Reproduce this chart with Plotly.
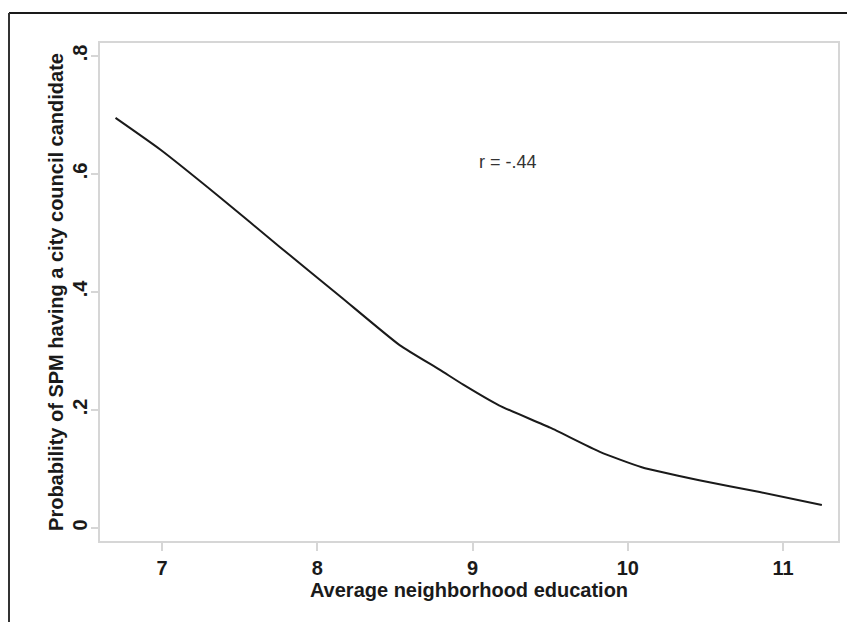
import plotly.graph_objects as go

# Data
education = [6.70, 6.99, 7.37, 7.76, 8.15, 8.53, 8.79, 8.94, 9.17, 9.50, 9.82, 10.09, 10.46, 10.85, 11.25]
probability = [0.695, 0.641, 0.561, 0.476, 0.392, 0.310, 0.268, 0.243, 0.208, 0.170, 0.129, 0.103, 0.081, 0.061, 0.039]

x_ticks = [7, 8, 9, 10, 11]
x_tick_labels = ["7", "8", "9", "10", "11"]
y_ticks = [0, 0.2, 0.4, 0.6, 0.8]
y_tick_labels = ["0", ".2", ".4", ".6", ".8"]

annotation_text = "r = -.44"
x_title = "Average neighborhood education"
y_title = "Probability of SPM having a city council candidate"

FONT = "Liberation Sans, Arial, sans-serif"
AXIS_GRAY = "#d6d6d6"

fig = go.Figure()
fig.add_trace(go.Scatter(
    x=education, y=probability, mode="lines",
    line=dict(color="#1a1a1a", width=2, shape="spline", smoothing=0.5),
    hoverinfo="skip", showlegend=False,
))

fig.add_annotation(x=9.23, y=0.62, text=annotation_text, showarrow=False,
                   font=dict(family=FONT, size=18, color="#333333"))

# The page body has an 8px margin, so the figure is placed 8px in from the window edge
OFF = 8
W, H = 855 - OFF, 622 - OFF
L, R, T, B = 100 - OFF, 17, 43 - OFF, 81
pw, ph = W - L - R, H - T - B
def px(x): return (x - OFF - L) / pw
def py(y): return (H - B - (y - OFF)) / ph

# Outer frame (top and left edges)
fig.add_shape(type="line", xref="paper", yref="paper",
              x0=px(9), y0=py(13), x1=px(860), y1=py(13),
              line=dict(color="#1a1a1a", width=2))
fig.add_shape(type="line", xref="paper", yref="paper",
              x0=px(9), y0=py(13), x1=px(9), y1=py(630),
              line=dict(color="#333333", width=2))

fig.update_layout(
    width=W, height=H,
    margin=dict(l=L, r=R, t=T, b=B, pad=0, autoexpand=False),
    paper_bgcolor="white", plot_bgcolor="white",
    font=dict(family=FONT, color="#1a1a1a"),
    xaxis=dict(
        range=[6.60, 11.354], tickvals=x_ticks, ticktext=x_tick_labels,
        showgrid=False, zeroline=False, automargin=False,
        showline=True, linecolor=AXIS_GRAY, linewidth=2, mirror=True,
        ticks="outside", ticklen=8, tickwidth=1.5, tickcolor=AXIS_GRAY,
        tickfont=dict(family=FONT, size=20, color="#1a1a1a", weight="bold"),
        title=dict(text=x_title, standoff=4,
                   font=dict(family=FONT, size=20, color="#1a1a1a", weight="bold")),
    ),
    yaxis=dict(
        range=[-0.022, 0.822], tickvals=y_ticks, ticktext=y_tick_labels,
        tickangle=-90, ticklabelstandoff=-4,
        showgrid=False, zeroline=False, automargin=False,
        showline=True, linecolor=AXIS_GRAY, linewidth=2, mirror=True,
        ticks="outside", ticklen=7, tickwidth=1.5, tickcolor=AXIS_GRAY,
        tickfont=dict(family=FONT, size=20, color="#1a1a1a", weight="bold"),
        title=dict(text=y_title, standoff=0,
                   font=dict(family=FONT, size=20, color="#1a1a1a", weight="bold")),
    ),
)

fig.write_html("out.html")
